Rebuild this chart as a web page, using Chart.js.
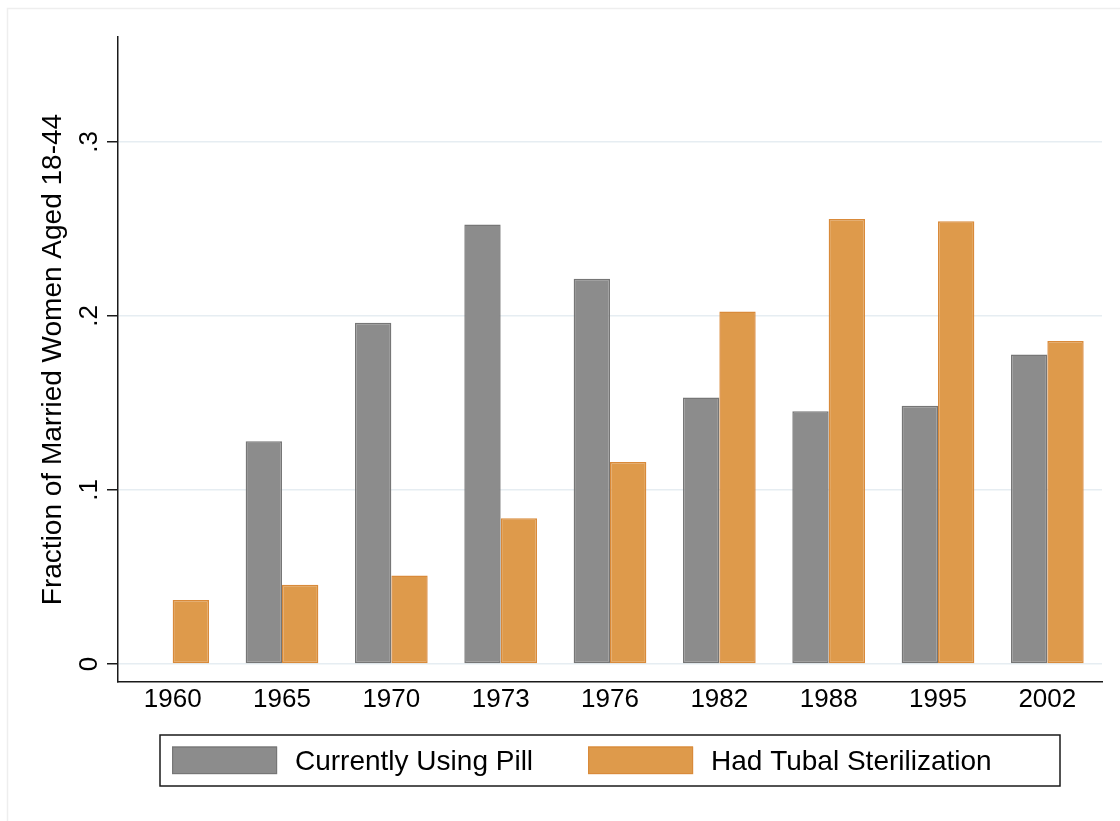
<!DOCTYPE html>
<html>
<head>
<meta charset="utf-8">
<script src="https://cdn.jsdelivr.net/npm/chart.js@4"></script>
<style>
  html, body { margin: 0; padding: 0; background: #ffffff; }
  #wrap { width: 1120px; height: 821px; position: relative; }
</style>
</head>
<body>
<div id="wrap"><canvas id="c" width="1120" height="821"></canvas></div>
<script>
const years = ['1960', '1965', '1970', '1973', '1976', '1982', '1988', '1995', '2002'];
const pillValues = [null, 0.128, 0.196, 0.2525, 0.2213, 0.1531, 0.1452, 0.1483, 0.1778];
const tubalValues = [0.0368, 0.0456, 0.0508, 0.0837, 0.116, 0.2025, 0.2556, 0.2544, 0.1856];
const yTickValues = [0, 0.1, 0.2, 0.3];
const yTickLabels = ['0', '.1', '.2', '.3'];
const seriesNames = ['Currently Using Pill', 'Had Tubal Sterilization'];
const yTitle = 'Fraction of Married Women Aged 18-44';

const FONT = "'Liberation Sans', Arial, Helvetica, sans-serif";

const stataFrame = {
  id: 'stataFrame',
  beforeDraw(chart) {
    const ctx = chart.ctx;
    ctx.save();
    ctx.strokeStyle = '#eeeeee';
    ctx.lineWidth = 1.5;
    ctx.strokeRect(7.5, 8.5, chart.width + 20, chart.height + 20);
    ctx.restore();
  }
};

const stataLegend = {
  id: 'stataLegend',
  afterDraw(chart) {
    const ctx = chart.ctx;
    const a = chart.chartArea;
    const ds = chart.data.datasets;
    ctx.save();
    // frame
    ctx.strokeStyle = '#1a1a1a';
    ctx.lineWidth = 1.5;
    ctx.strokeRect(a.left + 42, a.bottom + 53, a.right - a.left - 84, 51);
    const itemX = [a.left + 54, a.left + 470];
    ctx.font = '28px ' + FONT;
    ctx.textBaseline = 'middle';
    ctx.textAlign = 'left';
    ds.forEach((d, i) => {
      const x = itemX[i];
      const y = a.bottom + 64.5;
      ctx.fillStyle = d.backgroundColor;
      ctx.fillRect(x, y, 105, 27.5);
      ctx.strokeStyle = d.borderColor;
      ctx.lineWidth = 1.2;
      ctx.strokeRect(x + 0.6, y + 0.6, 104, 26.5);
      ctx.fillStyle = '#000000';
      ctx.fillText(d.label, x + 123, a.bottom + 80);
    });
    ctx.restore();
  }
};

new Chart(document.getElementById('c'), {
  type: 'bar',
  data: {
    labels: years,
    datasets: [
      {
        label: seriesNames[0],
        data: pillValues,
        backgroundColor: '#8c8c8c',
        borderColor: '#767676',
        borderWidth: 1.5,
        borderSkipped: false
      },
      {
        label: seriesNames[1],
        data: tubalValues,
        backgroundColor: '#de9a4b',
        borderColor: '#d98a3a',
        borderWidth: 1.5,
        borderSkipped: false
      }
    ]
  },
  options: {
    responsive: false,
    animation: false,
    devicePixelRatio: 1,
    layout: { padding: { top: 37, right: 18, left: 0, bottom: 0 } },
    categoryPercentage: 0.665,
    barPercentage: 1.0,
    plugins: {
      legend: { display: false },
      tooltip: { enabled: false }
    },
    scales: {
      x: {
        grid: { display: false, drawTicks: false },
        border: { display: true, color: '#1a1a1a', width: 1.5 },
        ticks: {
          color: '#000000',
          font: { family: FONT, size: 26 },
          padding: 2,
          maxRotation: 0,
          minRotation: 0
        },
        afterFit(scale) { scale.height = 139; }
      },
      y: {
        min: -0.01034,
        max: 0.3602,
        afterBuildTicks(scale) {
          scale.ticks = yTickValues.map(v => ({ value: v }));
        },
        grid: {
          color: '#e6edf2',
          lineWidth: 1.5,
          drawTicks: true,
          tickLength: 11,
          tickColor: '#1a1a1a',
          tickWidth: 1.5
        },
        border: { display: true, color: '#1a1a1a', width: 1.5 },
        ticks: {
          color: '#000000',
          font: { family: FONT, size: 26 },
          minRotation: 90,
          maxRotation: 90,
          crossAlign: 'center',
          padding: 6,
          callback: (v, i) => yTickLabels[i]
        },
        title: {
          display: true,
          text: yTitle,
          color: '#000000',
          font: { family: FONT, size: 28 },
          padding: { top: 36, bottom: 0 }
        },
        afterFit(scale) { scale.width = 118; }
      }
    }
  },
  plugins: [stataFrame, stataLegend]
});
</script>
</body>
</html>
